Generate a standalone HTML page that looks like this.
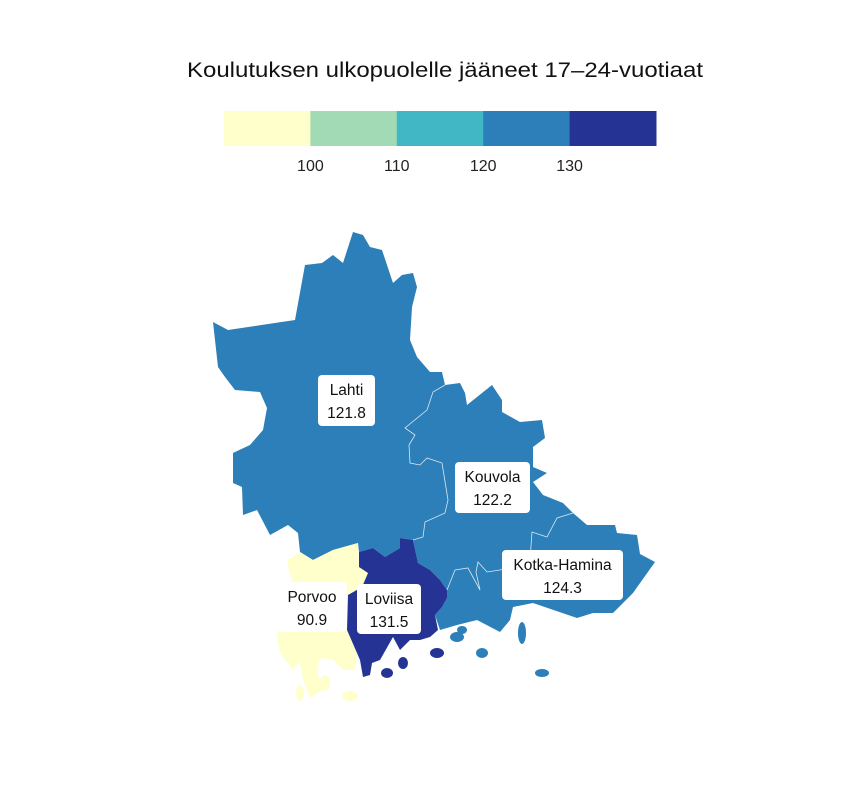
<!DOCTYPE html>
<html><head><meta charset="utf-8">
<style>
html,body{margin:0;padding:0;background:#fff;}
body{width:864px;height:792px;overflow:hidden;font-family:"Liberation Sans",sans-serif;}
</style></head>
<body>
<svg id="chart" width="864" height="792" viewBox="0 0 864 792" xmlns="http://www.w3.org/2000/svg">
<text x="445" y="77" text-anchor="middle" font-size="21" textLength="516" lengthAdjust="spacingAndGlyphs" fill="#111">Koulutuksen ulkopuolelle jääneet 17–24-vuotiaat</text>
<g id="legend"></g>
<g id="map"></g>
<g id="labels"></g>
</svg>
<script>
const breaks = [100, 110, 120, 130];
const binColors = ["#ffffcc", "#a1dab4", "#41b6c4", "#2c7fb8", "#253494"];
const regionNames = ["Lahti", "Kouvola", "Kotka-Hamina", "Porvoo", "Loviisa"];
const regionValues = [121.8, 122.2, 124.3, 90.9, 131.5];

const NS = "http://www.w3.org/2000/svg";
function el(tag, attrs, parent){const e=document.createElementNS(NS,tag);for(const k in attrs)e.setAttribute(k,attrs[k]);parent.appendChild(e);return e;}
function colorFor(v){let i=0;while(i<breaks.length&&v>=breaks[i])i++;return binColors[i];}

const lg=document.getElementById('legend');
const lx0=224,lx1=656,bw=(lx1-lx0)/binColors.length;
binColors.forEach((c,i)=>{
  const r=el('rect',{x:lx0+i*bw,y:111,width:bw+0.5,height:35,fill:c},lg);
  
  
});
breaks.forEach((b,i)=>{
  const t=el('text',{x:lx0+(i+1)*bw,y:171,'text-anchor':'middle','font-size':'16',fill:'#222'},lg);
  t.textContent=b;
  
  
});

const shapes={
 "blue":"M353,232 L363,235 L370,247 L382,250 L393,283 L402,275 L413,273 L417,287 L412,307 L410,340 L417,357 L430,372 L442,372 L445,385 L460,383 L465,393 L467,405 L492,385 L502,400 L502,412 L520,422 L542,420 L545,438 L533,447 L533,467 L547,473 L533,482 L543,495 L563,503 L573,513 L587,525 L615,525 L617,533 L637,535 L640,554 L655,562 L633,593 L613,613 L593,613 L577,618 L533,603 L513,607 L510,620 L500,632 L477,620 L457,625 L440,630 L435,615 L442,607 L447,598 L447,590 L440,580 L430,570 L418,563 L413,540 L400,538 L400,548 L385,557 L373,548 L359,552 L358,543 L333,550 L313,560 L300,552 L298,533 L288,525 L270,535 L257,510 L243,515 L242,487 L233,483 L233,453 L250,445 L263,430 L267,408 L260,392 L235,390 L225,377 L218,367 L213,322 L228,330 L295,320 L305,265 L322,263 L333,255 L343,263 Z",
 "porvoo":"M288,560 L300,552 L313,560 L333,550 L358,543 L359,567 L368,573 L362,587 L348,595 L347,630 L357,653 L355,670 L343,670 L333,660 L320,658 L317,670 L322,690 L310,698 L303,680 L300,662 L293,670 L280,653 L277,637 L278,600 L292,580 L288,567 Z",
 "loviisa":"M359,552 L373,548 L385,557 L400,548 L400,538 L413,540 L418,563 L430,570 L440,580 L447,590 L447,598 L442,607 L435,615 L438,630 L430,637 L420,640 L410,640 L400,650 L393,637 L380,660 L372,663 L370,675 L363,677 L360,660 L357,653 L347,630 L348,595 L362,587 L368,573 L359,567 Z"
};
const islands=[
 ["blue",457,637,7,5],["blue",482,653,6,5],["blue",522,633,4,11],["blue",542,673,7,4],["blue",462,630,5,4],
 ["loviisa",387,673,6,5],["loviisa",403,663,5,6],["loviisa",437,653,7,5],["loviisa",366,668,4,5],
 ["porvoo",300,693,4,8],["porvoo",350,696,8,5],["porvoo",325,683,5,8]
];
const regionShape={"Lahti":"blue","Kouvola":"blue","Kotka-Hamina":"blue","Porvoo":"porvoo","Loviisa":"loviisa"};
const shapeValue={};
regionNames.forEach((n,i)=>{shapeValue[regionShape[n]]=regionValues[i];});
shapeValue.blue=regionValues[0];

const mp=document.getElementById('map');
Object.keys(shapes).forEach(k=>{
  const p=el('path',{d:shapes[k],fill:colorFor(shapeValue[k]),stroke:'none'},mp);
  
  
});
islands.forEach(s=>{
  const e=el('ellipse',{cx:s[1],cy:s[2],rx:s[3],ry:s[4],fill:colorFor(shapeValue[s[0]])},mp);
  
  
});
const borders=[
 "M445,385 L433,392 L427,410 L405,428 L415,435 L409,445 L410,463 L420,465 L427,458 L442,463 L448,500 L445,513 L425,522 L423,537 L413,540",
 "M573,513 L557,518 L547,537 L532,532 L530,560 L500,570 L487,572 L478,562 L476,572 L480,590 L468,568 L455,570 L447,590"
];
borders.forEach(d=>{
  const b=el('path',{d:d,fill:'none',stroke:'#dbe8f2','stroke-width':'0.8'},mp);
  
  
});

const labelBoxes={"Lahti":[318,375,57,51],"Kouvola":[455,462,75,51],"Kotka-Hamina":[502,550,121,50],"Porvoo":[277,582,70,50],"Loviisa":[357,584,64,50]};
const lb=document.getElementById('labels');
regionNames.forEach((n,i)=>{
  const b=labelBoxes[n];
  const g=el('g',{},lb);
  
  
  el('rect',{x:b[0],y:b[1],width:b[2],height:b[3],rx:4,fill:'#fff'},g);
  const cx=b[0]+b[2]/2;
  const t1=el('text',{x:cx,y:b[1]+20,'text-anchor':'middle','font-size':'15.5',fill:'#111'},g);
  t1.textContent=n;
  const t2=el('text',{x:cx,y:b[1]+43,'text-anchor':'middle','font-size':'15.5',fill:'#111'},g);
  t2.textContent=regionValues[i].toFixed(1);
});
</script>
</body></html>
